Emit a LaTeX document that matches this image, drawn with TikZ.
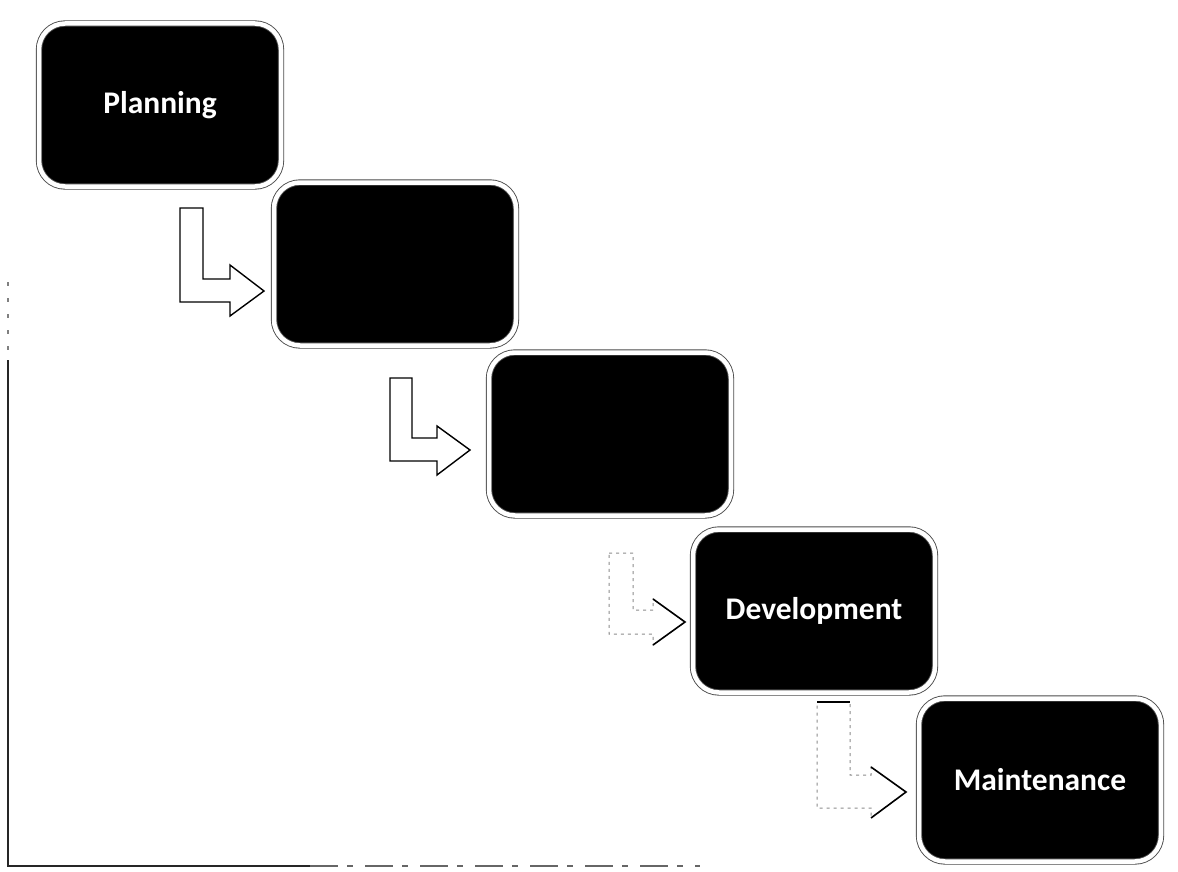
\documentclass[tikz,border=0pt]{standalone}
\usepackage{fontspec}
\setmainfont{Carlito}
\begin{document}
\begin{tikzpicture}[x=1pt,y=-1pt,
  stage/.style={fill=black, draw=black!70, double=white, double distance=4.5pt,
    line width=0.9pt, rounded corners=26pt, minimum width=242pt, minimum height=163pt,
    inner sep=0pt, text=white, font=\bfseries\fontsize{31.5}{36}\selectfont},
  bentarrow/.style={draw=black, fill=white, line width=1.4pt, line join=miter},
  fadedarrow/.style={draw=black!45, fill=white, line width=1pt, dash pattern=on 3pt off 4pt},
  chevron/.style={draw=black, line width=1.6pt},
  frame/.style={draw=black!85, line width=1.5pt}
]
\useasboundingbox (0,0) rectangle (1178,872);

% page frame left over from the scanned sheet
\draw[frame] (8,360) -- (8,866) -- (310,866);
\draw[frame, black!60, dash pattern=on 28pt off 9pt on 6pt off 12pt] (310,866) -- (700,866);
\draw[frame, black!50, dash pattern=on 4pt off 12pt] (8,282) -- (8,360);

% the five stages
\node[stage] (plan)  at (160,105) {Planning};
\node[stage] (anal)  at (395,264) {};
\node[stage] (des)   at (610,434) {};
\node[stage] (dev)   at (814,611) {Development};
\node[stage] (maint) at (1040,780) {Maintenance};

% bent arrows leading down into the next stage
\draw[bentarrow] (180,208) -- (203,208) -- (203,279) -- (230,279) -- (230,265)
  -- (264,291) -- (230,316) -- (230,302) -- (180,302) -- cycle;
\draw[bentarrow] (390,378) -- (412,378) -- (412,438) -- (437,438) -- (437,426)
  -- (470,450) -- (437,475) -- (437,461) -- (390,461) -- cycle;
\draw[fadedarrow] (609,553) -- (633,553) -- (633,610) -- (653,610) -- (653,599)
  -- (685,622) -- (653,645) -- (653,634) -- (609,634) -- cycle;
\draw[chevron] (653,599) -- (685,622) -- (653,645);
\draw[fadedarrow] (817,702) -- (850,702) -- (850,775) -- (871,775) -- (871,767)
  -- (906,792) -- (871,818) -- (871,808) -- (817,808) -- cycle;
\draw[chevron] (871,767) -- (906,792) -- (871,818);
\draw[chevron, line width=2pt] (817,702) -- (850,702);
\end{tikzpicture}
\end{document}
